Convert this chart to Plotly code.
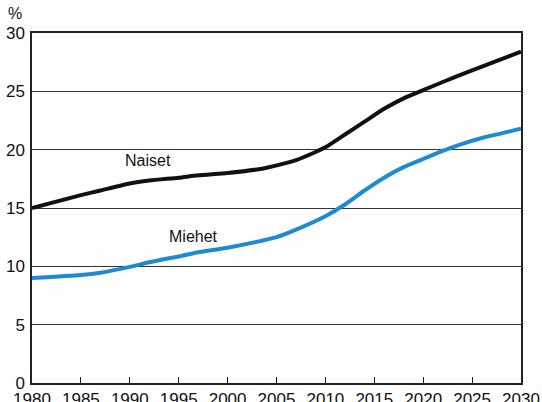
import plotly.graph_objects as go

# --- data ---
years_naiset = [1980, 1985, 1987, 1990, 1992, 1995, 1997, 2000, 2003, 2004, 2007, 2009,
                2010, 2012, 2014, 2016, 2018, 2020, 2022, 2025, 2030]
naiset = [15.0, 16.1, 16.5, 17.1, 17.35, 17.6, 17.8, 18.0, 18.3, 18.45, 19.1, 19.8,
          20.2, 21.3, 22.4, 23.5, 24.4, 25.1, 25.8, 26.8, 28.4]

years_miehet = [1980, 1985, 1987, 1990, 1992, 1995, 1997, 2000, 2003, 2005, 2007, 2010,
                2012, 2014, 2016, 2018, 2020, 2022, 2024, 2026, 2028, 2030]
miehet = [9.0, 9.25, 9.45, 9.95, 10.35, 10.85, 11.2, 11.6, 12.1, 12.5, 13.15, 14.3,
          15.3, 16.5, 17.6, 18.5, 19.2, 19.9, 20.5, 21.0, 21.4, 21.8]

x_ticks = list(range(1980, 2031, 5))
y_ticks = [0, 5, 10, 15, 20, 25, 30]

FONT = "Liberation Sans, Arial, sans-serif"

fig = go.Figure()
fig.add_trace(go.Scatter(x=years_naiset, y=naiset, mode="lines", name="Naiset",
                         line=dict(color="#111111", width=4, shape="spline", smoothing=0.6),
                         showlegend=False))
fig.add_trace(go.Scatter(x=years_miehet, y=miehet, mode="lines", name="Miehet",
                         line=dict(color="#1f8ad2", width=4, shape="spline", smoothing=0.6),
                         showlegend=False))

fig.add_annotation(x=1991.9, y=19.1, text="Naiset", showarrow=False, xanchor="center",
                   font=dict(size=16, color="#111111", family=FONT))
fig.add_annotation(x=1996.5, y=12.6, text="Miehet", showarrow=False, xanchor="center",
                   font=dict(size=16, color="#111111", family=FONT))
fig.add_annotation(x=-0.035, y=1.0, xref="paper", yref="paper", text="%", showarrow=False,
                   xanchor="center", yanchor="bottom", yshift=9,
                   font=dict(size=16, color="#111111", family=FONT))

fig.update_layout(
    width=542, height=402,
    margin=dict(l=32, r=21, t=33, b=19),
    paper_bgcolor="white", plot_bgcolor="white",
    font=dict(family=FONT, color="#111111"),
    xaxis=dict(range=[1980, 2030], tickvals=x_ticks, ticks="inside", ticklen=6,
               tickcolor="#222222", tickwidth=1.2, showgrid=False, zeroline=False,
               showline=True, linecolor="#222222", linewidth=1.5, mirror=True,
               tickfont=dict(size=17), automargin=False, fixedrange=True),
    yaxis=dict(range=[0, 30], tickvals=y_ticks, ticks="", showgrid=True,
               gridcolor="#333333", gridwidth=1.2, zeroline=False,
               showline=True, linecolor="#222222", linewidth=1.5, mirror=True,
               tickfont=dict(size=17), ticklabelstandoff=2, automargin=False,
               fixedrange=True),
)

# page body has a default margin; drop it so the figure sits at the window corner
fig.write_html("out.html", config={"displayModeBar": False},
               post_script="document.body.style.margin='0';")
